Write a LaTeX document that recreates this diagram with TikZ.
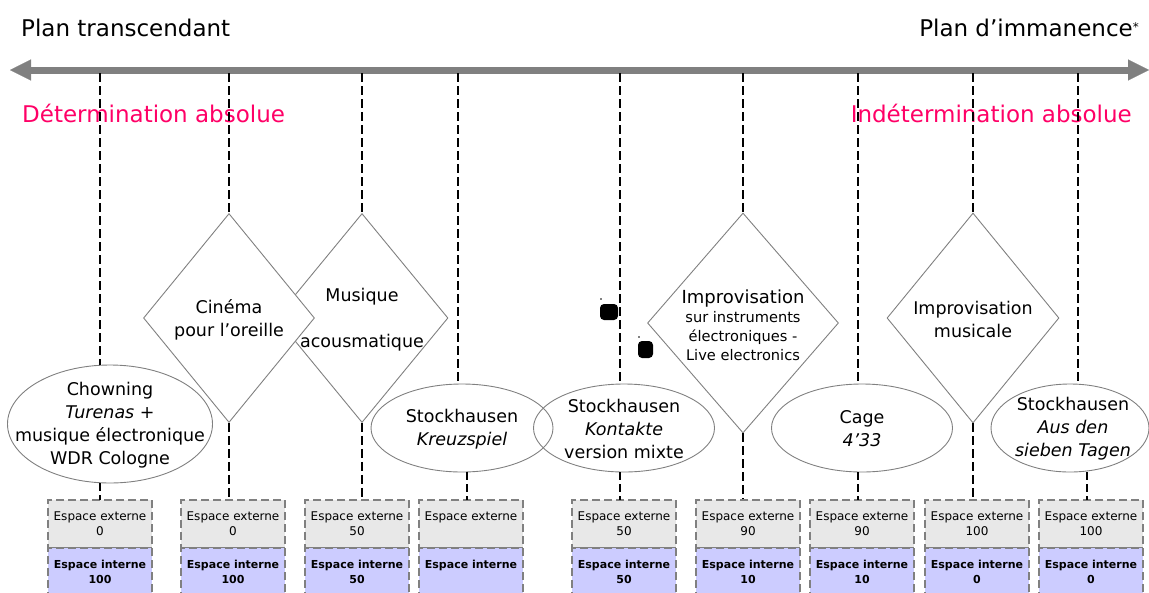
\documentclass[tikz,border=0pt]{standalone}
\usepackage{fontspec}
\setmainfont{DejaVu Sans}
\usetikzlibrary{shapes.geometric,arrows.meta}
\definecolor{rosevif}{RGB}{255,0,102}
\definecolor{gristrait}{RGB}{128,128,128}
\definecolor{grisboite}{RGB}{232,232,232}
\definecolor{mauveboite}{RGB}{204,204,255}
\begin{document}
\begin{tikzpicture}[x=1pt,y=-1pt,
		axe/.style={draw=gristrait,line width=7pt,{Triangle[length=21pt,width=21pt,line width=0.1pt]}-{Triangle[length=21pt,width=21pt,line width=0.1pt]}},
		trait/.style={draw=black,line width=1.8pt,dash pattern=on 9pt off 4pt},
		traitfin/.style={draw=black,line width=1.1pt,dash pattern=on 8pt off 4pt},
		ovale/.style={ellipse,draw=gristrait,line width=0.9pt,inner sep=0pt},
		losange/.style={diamond,draw=gristrait,line width=0.9pt,fill=white,inner sep=0pt},
		mots/.style={align=center,inner sep=0pt,font=\fontsize{17.5}{23}\selectfont},
		titre/.style={inner sep=0pt,font=\fontsize{23}{28}\selectfont},
		ext/.style={draw=gristrait,line width=1.6pt,dash pattern=on 8pt off 4pt,fill=grisboite,minimum width=104pt,minimum height=48pt,inner sep=0pt,align=center,font=\fontsize{12}{15}\selectfont},
		int/.style={ext,fill=mauveboite,font=\fontsize{11}{15}\selectfont\bfseries}]
	\useasboundingbox (0,0) rectangle (1149,592);
	\node[titre,anchor=base west] (transc) at (21,36) {Plan transcendant};
	\node[titre,anchor=base east] (imman) at (1139,36) {Plan d’immanence\raisebox{5pt}{\fontsize{12}{12}\selectfont *}};
	\coordinate (gauche) at (10,70);
	\coordinate (droite) at (1149,70);
	\draw[axe] (gauche) -- (droite);
	\node[titre,text=rosevif,anchor=base west] (detabs) at (22,122) {Détermination absolue};
	\node[titre,text=rosevif,anchor=base east] (indetabs) at (1132,122) {Indétermination absolue};
	\node[ext] (ext1) at (100,524) {Espace externe\\0};
	\node[int] (int1) at (100,572) {Espace interne\\100};
	\node[ext] (ext2) at (233,524) {Espace externe\\0};
	\node[int] (int2) at (233,572) {Espace interne\\100};
	\node[ext] (ext3) at (357,524) {Espace externe\\50};
	\node[int] (int3) at (357,572) {Espace interne\\50};
	\node[ext] (ext4) at (471,524) {Espace externe\\~};
	\node[int] (int4) at (471,572) {Espace interne\\~};
	\node[ext] (ext5) at (624,524) {Espace externe\\50};
	\node[int] (int5) at (624,572) {Espace interne\\50};
	\node[ext] (ext6) at (748,524) {Espace externe\\90};
	\node[int] (int6) at (748,572) {Espace interne\\10};
	\node[ext] (ext7) at (862,524) {Espace externe\\90};
	\node[int] (int7) at (862,572) {Espace interne\\10};
	\node[ext] (ext8) at (977,524) {Espace externe\\100};
	\node[int] (int8) at (977,572) {Espace interne\\0};
	\node[ext] (ext9) at (1091,524) {Espace externe\\100};
	\node[int] (int9) at (1091,572) {Espace interne\\0};
	\node[losange,minimum width=172pt,minimum height=209pt] (acousm) at (362,318) {};
	\node[losange,minimum width=171pt,minimum height=209pt] (cinema) at (229,318) {};
	\node[losange,minimum width=191pt,minimum height=220pt] (impelec) at (743,323) {};
	\node[losange,minimum width=172pt,minimum height=210pt] (impmus) at (973,318) {};
	\node[ovale,minimum width=205pt,minimum height=118pt] (chowning) at (110,424) {};
	\node[ovale,minimum width=182pt,minimum height=88pt] (kreuz) at (462,428) {};
	\node[ovale,minimum width=181pt,minimum height=88pt] (kontakte) at (624,428) {};
	\node[ovale,minimum width=181pt,minimum height=88pt] (cage) at (862,428) {};
	\node[ovale,minimum width=158pt,minimum height=88pt] (sieben) at (1070,428) {};
	\node[mots] (cinematxt) at (229,320) {Cinéma\\pour l’oreille};
	\node[mots] (acousmtxt) at (362,320) {Musique\\~\\acousmatique};
	\node[mots,font=\fontsize{14.6}{19}\selectfont] (impelectxt) at (743,325) {{\fontsize{18}{19}\selectfont Improvisation}\\sur instruments\\électroniques -\\Live electronics};
	\node[mots] (impmustxt) at (973,319) {Improvisation\\musicale};
	\node[mots] (chowningtxt) at (110,425) {Chowning\\\textit{Turenas} +\\musique électronique\\WDR Cologne};
	\node[mots] (kreuztxt) at (462,429) {Stockhausen\\\textit{Kreuzspiel}};
	\node[mots] (kontaktetxt) at (624,429) {Stockhausen\\\textit{Kontakte}\\version mixte};
	\node[mots] (cagetxt) at (862,429) {Cage\\\textit{4’33}};
	\node[mots] (siebentxt) at (1073,429) {Stockhausen\\\textit{Aus den}\\\textit{sieben Tagen}};
	\coordinate (h1) at (100,73);
	\coordinate (h2) at (229,73);
	\coordinate (h3) at (362,73);
	\coordinate (h4) at (458,73);
	\coordinate (h5) at (620,73);
	\coordinate (h6) at (743,73);
	\coordinate (h7) at (858,73);
	\coordinate (h8) at (973,73);
	\coordinate (h9) at (1078,73);
	\path (h1) edge[trait] (h1 |- chowning.north)
		(h2) edge[trait] (cinema.north)
		(h3) edge[trait] (acousm.north)
		(h4) edge[trait] (h4 |- kreuz.north)
		(h5) edge[trait] (h5 |- kontakte.north)
		(h6) edge[trait] (impelec.north)
		(h7) edge[trait] (h7 |- cage.north)
		(h8) edge[trait] (impmus.north)
		(h9) edge[trait] (h9 |- sieben.north);
	\coordinate (b1) at (100,500);
	\coordinate (b4) at (467,500);
	\coordinate (b5) at (620,500);
	\coordinate (b7) at (858,500);
	\coordinate (b9) at (1087,500);
	\path (b1 |- chowning.south) edge[traitfin] (b1)
		(cinema.south) edge[trait] (cinema.south |- ext2.north)
		(acousm.south) edge[trait] (acousm.south |- ext3.north)
		(b4 |- kreuz.south) edge[traitfin] (b4)
		(b5 |- kontakte.south) edge[traitfin] (b5)
		(impelec.south) edge[trait] (impelec.south |- ext6.north)
		(b7 |- cage.south) edge[traitfin] (b7)
		(impmus.south) edge[trait] (impmus.south |- ext8.north)
		(b9 |- sieben.south) edge[traitfin] (b9);
	\fill[rounded corners=4pt] (600,304) rectangle (618,320);
	\fill (601,299) circle (0.8);
	\fill[rounded corners=4pt] (638,341) rectangle (653,358);
	\fill (639,337) circle (0.8);
\end{tikzpicture}
\end{document}
